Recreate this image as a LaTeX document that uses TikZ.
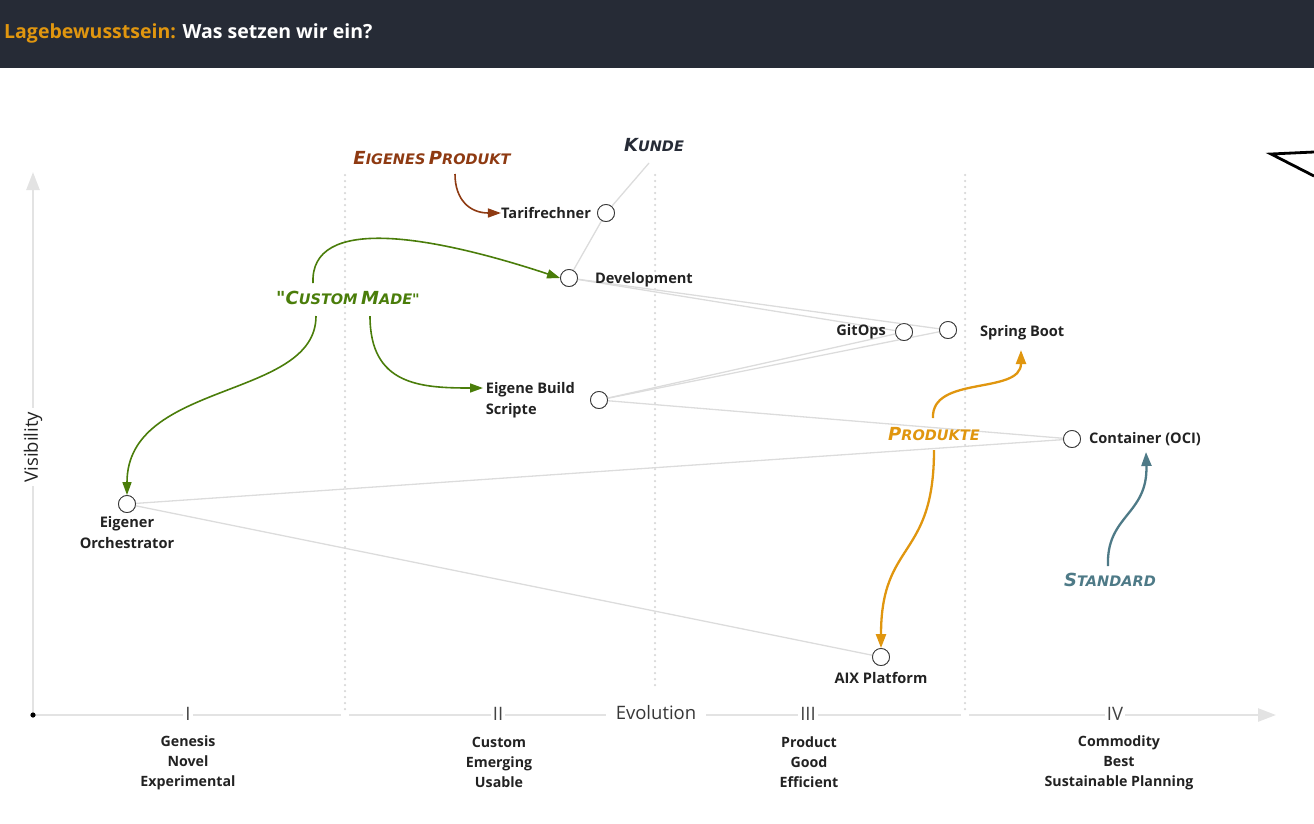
\documentclass[tikz,border=0pt]{standalone}
\usepackage{fontspec}
\setmainfont{Open Sans}
\newfontfamily\handfont{DejaVu Sans}
\usetikzlibrary{arrows.meta,calc,positioning}
\definecolor{hdrbg}{HTML}{262B36}
\definecolor{orng}{HTML}{E0960F}
\definecolor{grn}{HTML}{4A7D0A}
\definecolor{brwn}{HTML}{8E3A12}
\definecolor{teal2}{HTML}{4E7A87}
\definecolor{axisgray}{HTML}{E3E3E3}
\definecolor{linegray}{HTML}{DCDCDC}
\definecolor{dotgray}{HTML}{D8D8D8}
\definecolor{txt}{HTML}{222222}
\newcommand\fsc[2]{{\fontsize{18}{18}\selectfont #1}{\fontsize{14.5}{15}\selectfont #2}}
\tikzset{
  comp/.style={circle,draw=txt!90,fill=white,minimum size=17pt,inner sep=0pt,line width=0.8pt},
  lbl/.style={font=\bfseries\fontsize{14.6}{21}\selectfont,text=txt,inner sep=0pt},
  stage/.style={font=\bfseries\fontsize{14.2}{20}\selectfont,text=txt,align=center,inner sep=0pt},
  link/.style={draw=linegray,line width=1.3pt},
  hand/.style={font=\handfont\bfseries\itshape,inner sep=1pt},
  note/.style={line width=1.6pt,-{Triangle[length=13pt,width=9pt]}},
  thicknote/.style={line width=2.3pt,-{Triangle[length=14pt,width=10pt]}},
  axisline/.style={draw=axisgray,line width=2.5pt},
  evodots/.style={draw=dotgray,line width=2.5pt,dash pattern=on 0pt off 6pt,line cap=round},
  tick/.style={fill=white,font=\fontsize{18.5}{18}\selectfont,text=txt!85,inner xsep=2pt,inner ysep=0pt}
}
\begin{document}
\begin{tikzpicture}[x=1pt,y=-1pt]
\useasboundingbox (0,0) rectangle (1314,823);
% header
\fill[hdrbg] (0,0) rectangle (1314,68);
\node[anchor=west,font=\bfseries\fontsize{19.5}{22}\selectfont,inner sep=0pt] (title) at (4,33)
  {\textcolor{orng}{Lagebewusstsein:} \textcolor{white}{Was setzen wir ein?}};
% pointer top right
\draw[line width=2.8pt,line join=miter] (1314,152) -- (1271,154) -- (1314,176);
% evolution stage separators
\draw[evodots] (345,175) -- (345,712);
\draw[evodots] (655,175) -- (655,690);
\draw[evodots] (965,175) -- (965,712);
% axes
\draw[axisline,-{Triangle[length=18pt,width=13pt]}] (33,715) -- (33,172);
\draw[axisline] (33,715) -- (341,715);
\draw[axisline] (349,715) -- (961,715);
\draw[axisline,-{Triangle[length=18pt,width=13pt]}] (969,715) -- (1276,715);
\fill[black] (33,715) circle (2.6pt);
\node[fill=white,rotate=90,font=\fontsize{18.5}{18}\selectfont,text=txt,inner xsep=4pt,inner ysep=1pt] (vis) at (33,447) {Visibility};
\node[fill=white,font=\fontsize{18.5}{18}\selectfont,text=txt!90,inner xsep=10pt,inner ysep=2pt] (evo) at (656,713) {Evolution};
\node[tick] (t1) at (188,714) {I};
\node[tick] (t2) at (498,714) {II};
\node[tick] (t3) at (808,714) {III};
\node[tick] (t4) at (1115,714) {IV};
\node[stage] (s1) at (188,763) {Genesis\\Novel\\Experimental};
\node[stage] (s2) at (499,762) {Custom\\Emerging\\Usable};
\node[stage] (s3) at (809,762) {Product\\Good\\Efficient};
\node[stage] (s4) at (1119,763) {Commodity\\Best\\Sustainable Planning};
% components
\node[hand,text=hdrbg] (kunde) at (654,145) {\fsc{K}{UNDE}};
\coordinate (kundeEnd) at (649,163);
\node[comp] (tarif) at (606,213) {};
\node[comp] (dev) at (569,278) {};
\node[comp] (gitops) at (904,332) {};
\node[comp] (spring) at (948,330) {};
\node[comp] (ebs) at (599,400) {};
\node[comp] (cont) at (1072,439) {};
\node[comp] (orch) at (127,504) {};
\node[comp] (aix) at (881,657) {};
% links
\draw[link] (kundeEnd) -- (tarif);
\draw[link] (tarif) -- (dev);
\draw[link] (dev) -- (gitops);
\draw[link] (dev) -- (spring);
\draw[link] (ebs) -- (gitops);
\draw[link] (ebs) -- (spring);
\draw[link] (ebs) -- (cont);
\draw[link] (orch) -- (cont);
\draw[link] (orch) -- (aix);
% redraw circles on top
\foreach \n in {tarif,dev,gitops,spring,ebs,cont,orch,aix}{\draw[draw=txt!90,fill=white,line width=0.8pt] (\n.center) circle (8.5pt);}
% labels
\node[lbl,left=6pt of tarif] (tarifl) {Tarifrechner};
\node[lbl,right=17pt of dev,yshift=-2pt] (devl) {Development};
\node[lbl,left=9pt of gitops] (gitopsl) {GitOps};
\node[lbl,right=23pt of spring,yshift=-3pt] (springl) {Spring Boot};
\node[lbl,left=15pt of ebs,align=left] (ebsl) {Eigene Build\\Scripte};
\node[lbl,right=8pt of cont] (contl) {Container (OCI)};
\node[lbl,below=3pt of orch,align=center] (orchl) {Eigener\\Orchestrator};
\node[lbl,below=6pt of aix] (aixl) {AIX Platform};
% annotations
\node[hand,text=brwn] (eig) at (432,158) {\fsc{E}{IGENES} \fsc{P}{RODUKT}};
\node[hand,text=grn] (cm) at (348,298) {\fsc{"C}{USTOM} \fsc{M}{ADE"}};
\node[hand,text=orng] (prod) at (934,434) {\fsc{P}{RODUKTE}};
\node[hand,text=teal2] (std) at (1110,580) {\fsc{S}{TANDARD}};
\coordinate (eigStart) at (455,174);
\coordinate (cmA) at (313,283);
\coordinate (cmB) at (316,316);
\coordinate (cmC) at (370,316);
\coordinate (ebsIn) at (483,388);
\coordinate (prodUp) at (933,418);
\coordinate (prodDown) at (934,450);
\coordinate (springIn) at (1021,350);
\coordinate (stdStart) at (1108,566);
\coordinate (contIn) at (1146,452);
\draw[note,brwn] (eigStart) .. controls (455,200) and (470,213) .. (tarifl.west);
\draw[note,grn] (cmA) .. controls (310,215) and (430,235) .. (dev.west);
\draw[note,grn] (cmB) .. controls (316,400) and (127,380) .. (orch.north);
\draw[note,grn] (cmC) .. controls (370,385) and (420,388) .. (ebsIn);
\draw[thicknote,orng] (prodUp) .. controls (931,375) and (1021,395) .. (springIn);
\draw[thicknote,orng] (prodDown) .. controls (934,560) and (881,540) .. (aix.north);
\draw[thicknote,teal2] (stdStart) .. controls (1106,515) and (1148,515) .. (contIn);
\end{tikzpicture}
\end{document}
